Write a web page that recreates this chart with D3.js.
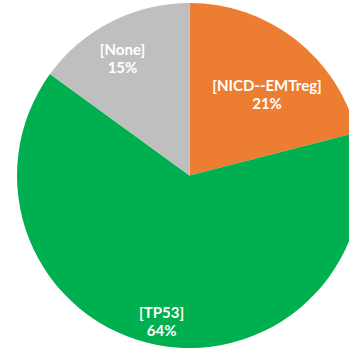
<!DOCTYPE html>
<html>
<head>
<meta charset="utf-8">
<script src="https://cdn.jsdelivr.net/npm/d3@7"></script>
<style>
  html, body { margin: 0; padding: 0; background: #fff; }
  svg { display: block; }
</style>
</head>
<body>
<svg id="chart" width="349" height="349"></svg>
<script>
// Share of samples by subtype, clockwise from 12 o'clock
const categories = ["NICD--EMTreg", "TP53", "None"];
const percents = [21, 64, 15];
const colors = ["#ED7D31", "#00B050", "#BFBFBF"];

// Label placement: distance from the centre and angular nudge (degrees)
const labelRadius = [112, 149, 134];
const labelNudge = [6, 0, -3];

const width = 349, height = 349;
const cx = 189.5, cy = 175.5, radius = 172.5;

const svg = d3.select("#chart");
const g = svg.append("g").attr("transform", `translate(${cx},${cy})`);

const pie = d3.pie().sort(null).value(d => d.value);
const arcs = pie(categories.map((c, i) => ({ name: c, value: percents[i], i })));
const arc = d3.arc().innerRadius(0).outerRadius(radius);

g.selectAll("path.slice")
  .data(arcs)
  .join("path")
  .attr("class", "slice")
  .attr("d", arc)
  .attr("fill", d => colors[d.data.i]);

const labels = g.selectAll("g.label")
  .data(arcs)
  .join("g")
  .attr("class", "label")
  .attr("transform", d => {
    const a = (d.startAngle + d.endAngle) / 2 + labelNudge[d.data.i] * Math.PI / 180;
    const r = labelRadius[d.data.i];
    return `translate(${r * Math.sin(a)},${-r * Math.cos(a)})`;
  });

labels.append("text")
  .attr("text-anchor", "middle")
  .attr("font-family", "Lato, 'Liberation Sans', Arial, sans-serif")
  .attr("font-weight", "bold")
  .attr("font-size", 15)
  .attr("fill", "#fff")
  .selectAll("tspan")
  .data(d => [`[${d.data.name}]`, `${d.data.value}%`])
  .join("tspan")
  .attr("x", 0)
  .attr("y", (t, j) => j === 0 ? -4 : 14)
  .text(t => t);
</script>
</body>
</html>
